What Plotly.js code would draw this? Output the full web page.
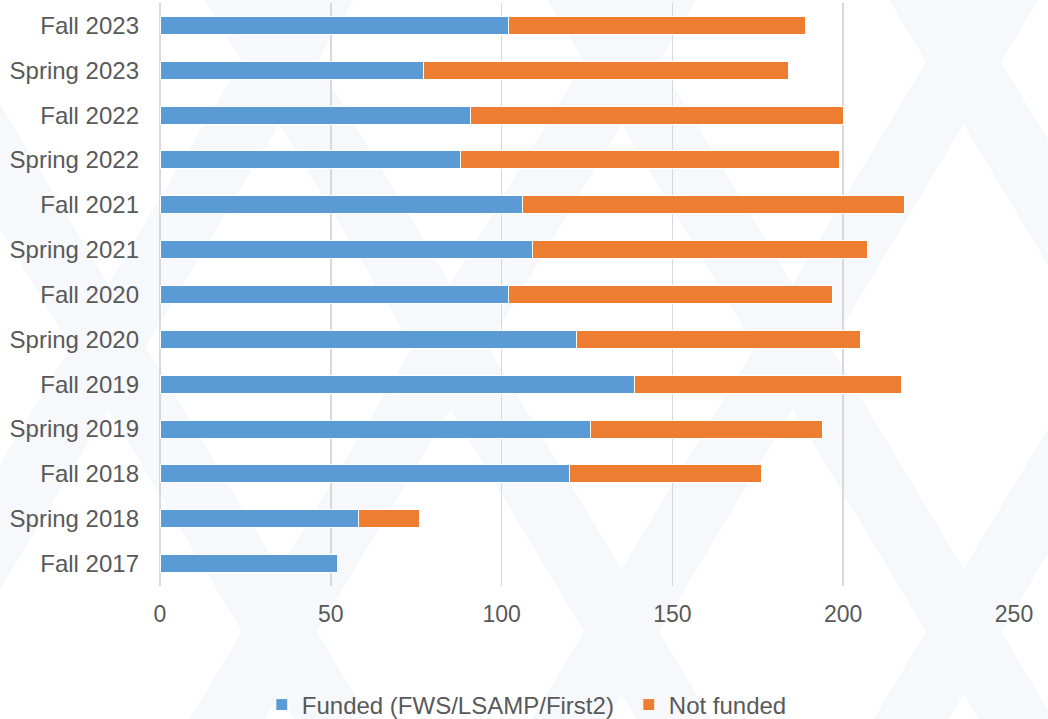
<!DOCTYPE html>
<html>
<head>
<meta charset="utf-8">
<script src="https://cdn.plot.ly/plotly-3.0.1.min.js"></script>
<style>
  html, body { margin: 0; padding: 0; background: #ffffff; }
  #chart { width: 1048px; height: 719px; }
</style>
</head>
<body>
<div id="chart"></div>
<script>
// Categories listed bottom-to-top
var terms = ["Fall 2017", "Spring 2018", "Fall 2018", "Spring 2019", "Fall 2019",
             "Spring 2020", "Fall 2020", "Spring 2021", "Fall 2021", "Spring 2022",
             "Fall 2022", "Spring 2023", "Fall 2023"];
var funded    = [52, 58, 120, 126, 139, 122, 102, 109, 106, 88, 91, 77, 102];
var notFunded = [0, 18, 56, 68, 78, 83, 95, 98, 112, 111, 109, 107, 87];
var xTicks = [0, 50, 100, 150, 200, 250];

var textColor = "#595959";
var fontFam = "Liberation Sans, Arial, sans-serif";

// plot-area geometry (px) used only for the faint background watermark
var W = 1048, H = 719, ML = 160, MR = 34, MT = 3, MB = 133;
var PW = W - ML - MR, PH = H - MT - MB;
function px2x(px) { return (px - ML) / PW; }
function px2y(py) { return (H - MB - py) / PH; }
function stripe(x0top, slope, width) {
  var pts = [[x0top, 0], [x0top + width, 0], [x0top + width + slope * H, H], [x0top + slope * H, H]];
  var d = pts.map(function (p, i) { return (i ? "L" : "M") + px2x(p[0]).toFixed(4) + "," + px2y(p[1]).toFixed(4); }).join("") + "Z";
  return { type: "path", xref: "paper", yref: "paper", path: d, fillcolor: "#f6f8fb",
           line: { width: 0 }, layer: "below", opacity: 1 };
}
var shapes = [];
[-137, 205, 547, 889].forEach(function (a) { shapes.push(stripe(a, 0.6, 75)); });
[279, 621, 963, 1305].forEach(function (b) { shapes.push(stripe(b, -0.6, 75)); });

var traces = [
  {
    type: "bar", orientation: "h", name: "Funded (FWS/LSAMP/First2)",
    y: terms, x: funded,
    marker: { color: "#5b9bd5", line: { color: "#ffffff", width: 1 } },
    hoverinfo: "x+y"
  },
  {
    type: "bar", orientation: "h", name: "Not funded",
    y: terms, x: notFunded,
    marker: { color: "#ed7d31", line: { color: "#ffffff", width: 1 } },
    hoverinfo: "x+y"
  }
];

var layout = {
  width: W, height: H,
  margin: { l: ML, r: MR, t: MT, b: MB, pad: 0 },
  paper_bgcolor: "#ffffff",
  plot_bgcolor: "rgba(0,0,0,0)",
  barmode: "stack",
  bargap: 0.6,
  font: { family: fontFam, color: textColor, size: 24 },
  shapes: shapes,
  xaxis: {
    range: [0, 250],
    tickvals: xTicks,
    ticktext: xTicks.map(String),
    showgrid: true, gridcolor: "#d9d9d9", gridwidth: 1.5,
    zeroline: true, zerolinecolor: "#d9d9d9", zerolinewidth: 1.5,
    showline: false, ticks: "",
    ticklabelstandoff: 12,
    tickfont: { size: 23, color: textColor, family: fontFam },
    automargin: false,
    fixedrange: true
  },
  yaxis: {
    type: "category",
    categoryorder: "array", categoryarray: terms,
    showgrid: false, zeroline: false, showline: false, ticks: "",
    ticklabelstandoff: 20,
    tickfont: { size: 24, color: textColor, family: fontFam },
    automargin: false,
    fixedrange: true
  },
  showlegend: true,
  legend: {
    orientation: "h",
    xref: "container", yref: "container",
    x: 0.600, xanchor: "center",
    y: 0.0195, yanchor: "middle",
    font: { size: 24, color: textColor, family: fontFam },
    bgcolor: "rgba(0,0,0,0)",
    entrywidth: 322,
    traceorder: "normal"
  }
};

Plotly.newPlot("chart", traces, layout, { displayModeBar: false, staticPlot: true });
</script>
</body>
</html>
